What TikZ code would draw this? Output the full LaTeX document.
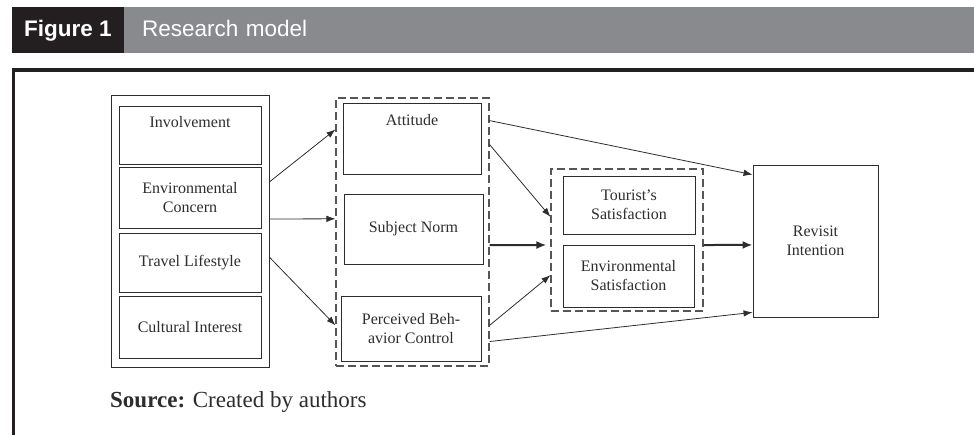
\documentclass[tikz,border=0pt]{standalone}
\usepackage{fontspec}
\setmainfont{Liberation Serif}
\newfontfamily\headfont{Liberation Sans}
\usetikzlibrary{positioning,arrows.meta,calc}
\definecolor{headblack}{RGB}{35,31,32}
\definecolor{headgrey}{RGB}{137,138,141}
\definecolor{inkgrey}{RGB}{45,45,45}
\definecolor{dashgrey}{RGB}{85,85,85}

\begin{document}
\begin{tikzpicture}[
    x=1pt, y=-1pt,
    >=Latex,
    construct/.style={
        draw=inkgrey,
        line width=0.9pt,
        inner sep=0pt,
        align=center,
        text=inkgrey,
        font=\fontsize{16}{19}\selectfont
    },
    group/.style={
        draw=dashgrey,
        line width=1.1pt,
        dash pattern=on 8pt off 4pt,
        inner sep=0pt
    },
    outer/.style={
        draw=inkgrey,
        line width=0.9pt,
        inner sep=0pt
    },
    header/.style={
        text=white,
        inner sep=0pt,
        minimum height=46pt,
        text height=17pt,
        text depth=4pt,
        font=\headfont\fontsize{22.5}{26}\selectfont
    },
    direct/.style={
        -{Latex[length=9pt,width=6.5pt]},
        line width=0.8pt,
        draw=inkgrey
    },
    strong/.style={
        -{Latex[length=10pt,width=8pt]},
        line width=2pt,
        draw=inkgrey
    }
]

\useasboundingbox (0,0) rectangle (974,435);

% ============================================================
% HEADER AND FRAME
% ============================================================

\node[header, fill=headblack, font=\headfont\bfseries\fontsize{22.5}{26}\selectfont,
      minimum width=112pt] (fignum) at (68,30) {Figure 1};

\node[header, fill=headgrey, anchor=west, inner xsep=18pt,
      text width=814pt, align=left] (figtitle) at (124,30) {Research model};

\draw[line width=3.5pt, headblack] (13.5,435) -- (13.5,70) -- (974,70);

% ============================================================
% ANTECEDENTS
% ============================================================

\node[outer, minimum width=158pt, minimum height=272pt] (inputs) at (190,231) {};

\node[construct, minimum width=142pt, minimum height=58pt,
      text height=22pt, text depth=36pt] (invol) at (190,135)
{Involvement};

\node[construct, minimum width=142pt, minimum height=61pt] (envc) at (190,197.5)
{Environmental\\Concern};

\node[construct, minimum width=142pt, minimum height=59pt] (travel) at (190,262.5)
{Travel Lifestyle};

\node[construct, minimum width=142pt, minimum height=62pt] (cultur) at (190,327)
{Cultural Interest};

% ============================================================
% TPB CONSTRUCTS
% ============================================================

\node[group, minimum width=153pt, minimum height=268pt] (tpb) at (412.5,232) {};

\node[construct, minimum width=138pt, minimum height=71pt,
      text height=23pt, text depth=48pt] (attit) at (412,138.5)
{Attitude};

\node[construct, minimum width=139pt, minimum height=70pt] (subnorm) at (413.5,229)
{Subject Norm};

\node[construct, minimum width=140pt, minimum height=65pt] (pbc) at (411,328.5)
{Perceived Beh-\\avior Control};

% ============================================================
% SATISFACTION
% ============================================================

\node[group, minimum width=152pt, minimum height=142pt] (sat) at (627,240) {};

\node[construct, minimum width=132pt, minimum height=58pt] (tsat) at (629,205)
{Tourist's\\Satisfaction};

\node[construct, minimum width=131pt, minimum height=62pt] (esat) at (628.5,276)
{Environmental\\Satisfaction};

% ============================================================
% OUTCOME
% ============================================================

\node[construct, minimum width=125pt, minimum height=152pt] (revisit) at (815.5,241)
{Revisit\\Intention};

% ============================================================
% PATHS
% ============================================================

\draw[direct] ($(inputs.north east)!0.32!(inputs.south east)$)
    -- ($(tpb.north west)!0.119!(tpb.south west)$);
\draw[direct] ($(inputs.north east)!0.456!(inputs.south east)$)
    -- ($(tpb.north west)!0.451!(tpb.south west)$);
\draw[direct] ($(inputs.north east)!0.596!(inputs.south east)$)
    -- ($(tpb.north west)!0.847!(tpb.south west)$);

\draw[direct] ($(tpb.north east)!0.086!(tpb.south east)$)
    -- ($(revisit.north west)!0.066!(revisit.south west)$);
\draw[direct] ($(tpb.north east)!0.175!(tpb.south east)$)
    -- ($(sat.north west)!0.338!(sat.south west)$);
\draw[strong] ($(tpb.north east)!0.549!(tpb.south east)$)
    -- ([xshift=-4pt]$(sat.north west)!0.535!(sat.south west)$);
\draw[direct] ($(tpb.north east)!0.847!(tpb.south east)$)
    -- ($(sat.north west)!0.746!(sat.south west)$);
\draw[direct] ($(tpb.north east)!0.907!(tpb.south east)$)
    -- ($(revisit.north west)!0.967!(revisit.south west)$);

\draw[strong] ($(sat.north east)!0.535!(sat.south east)$)
    -- ($(revisit.north west)!0.526!(revisit.south west)$);

% ============================================================
% SOURCE
% ============================================================

\node[anchor=base west, inner sep=0pt, text=inkgrey,
      font=\fontsize{23}{27}\selectfont] (source) at (110,407)
{\textbf{Source:} Created by authors};

\end{tikzpicture}
\end{document}
